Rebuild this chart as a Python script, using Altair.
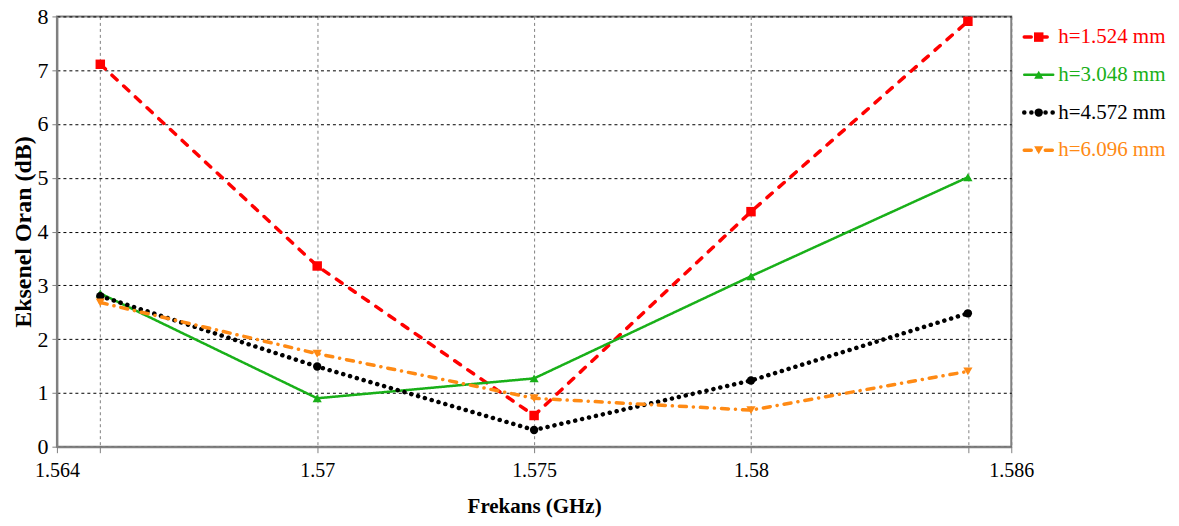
import altair as alt
import pandas as pd

# ---- data ----
freqs = [1.565, 1.57, 1.575, 1.58, 1.585]
series_names = ["h=1.524 mm", "h=3.048 mm", "h=4.572 mm", "h=6.096 mm"]
h1524 = [7.11, 3.36, 0.58, 4.37, 7.91]
h3048 = [2.85, 0.90, 1.27, 3.17, 5.01]
h4572 = [2.80, 1.49, 0.31, 1.23, 2.48]
h6096 = [2.68, 1.73, 0.90, 0.68, 1.40]
series_values = [h1524, h3048, h4572, h6096]

x_tick_values = [1.564, 1.565, 1.57, 1.575, 1.58, 1.585, 1.586]
x_tick_labels = ["1.564", "", "1.57", "1.575", "1.58", "", "1.586"]
y_tick_values = [0, 1, 2, 3, 4, 5, 6, 7, 8]

# ---- styles ----
colors = ["#FF0000", "#19B019", "#000000", "#FF8A14"]
dashes = [[7, 9], [1, 0], [0.1, 7], [7, 7, 0.1, 7]]
widths = [3.5, 2.5, 4.5, 3.5]
shapes = ["square", "triangle-up", "circle", "triangle-down"]
sizes = [90, 85, 70, 85]

FONT = "Liberation Serif"
W, H = 956, 431

label_expr = ""
for v, lab in zip(x_tick_values, x_tick_labels):
    label_expr += f"abs(datum.value - {v}) < 0.0000001 ? '{lab}' : "
label_expr += "''"

x_enc = alt.X(
    "freq:Q",
    scale=alt.Scale(domain=[x_tick_values[0], x_tick_values[-1]], nice=False, zero=False),
    axis=alt.Axis(
        values=x_tick_values, labelExpr=label_expr, title="Frekans (GHz)",
        grid=True, gridColor="#808080", gridDash=[3, 3], gridWidth=1,
        domainColor="#808080", domainWidth=2, tickColor="#808080", tickSize=6,
        labelFont=FONT, labelFontSize=20, labelColor="#000", labelPadding=8,
        labelFlush=False, labelOverlap=False,
        titleFont=FONT, titleFontSize=21, titleFontWeight="bold", titleColor="#000",
        titlePadding=15,
    ),
)
y_enc = alt.Y(
    "val:Q",
    scale=alt.Scale(domain=[0, 8], nice=False),
    axis=alt.Axis(
        values=y_tick_values, title="Eksenel Oran (dB)",
        grid=True, gridColor="#000000", gridDash=[3, 3], gridWidth=1,
        domainColor="#808080", domainWidth=2, tickColor="#808080", tickSize=5,
        labelFont=FONT, labelFontSize=22, labelColor="#000", labelPadding=4,
        labelFlush=False,
        titleFont=FONT, titleFontSize=24, titleFontWeight="bold", titleColor="#000",
        titlePadding=1,
    ),
)

layers = []
for name, vals, c, d, w, s, sz in zip(series_names, series_values, colors, dashes, widths, shapes, sizes):
    df = pd.DataFrame({"freq": freqs, "val": vals, "series": name})
    base = alt.Chart(df).encode(x=x_enc, y=y_enc)
    layers.append(base.mark_line(color=c, strokeDash=d, strokeWidth=w, strokeCap="round"))
    layers.append(base.mark_point(color=c, fill=c, filled=True, opacity=1, shape=s, size=sz))

main = alt.layer(*layers)

# ---- custom legend to the right of the plot (line + marker + coloured text) ----
leg_rows = []
for i, name in enumerate(series_names):
    leg_rows.append({"series": name, "idx": i, "lx": 13})
    leg_rows.append({"series": name, "idx": i, "lx": 42})
leg_lines = pd.DataFrame(leg_rows)
leg_pts = pd.DataFrame({"series": series_names, "idx": list(range(len(series_names))),
                        "mx": [27.5] * 4, "tx": [47] * 4})

# legend x scale: 0 = right edge of plot, 1 unit = 1 px
lx_scale = alt.Scale(domain=[-W, 0], nice=False, zero=False)
ly_scale = alt.Scale(domain=[-0.548, 10.855], nice=False, zero=False, reverse=True)

leg_layers = []
for name, c, d, w, s, sz in zip(series_names, colors, dashes, widths, shapes, sizes):
    ldf = leg_lines[leg_lines.series == name]
    pdf = leg_pts[leg_pts.series == name]
    leg_layers.append(
        alt.Chart(ldf).mark_line(color=c, strokeDash=d, strokeWidth=w, strokeCap="round").encode(
            x=alt.X("lx:Q", scale=lx_scale, axis=None),
            y=alt.Y("idx:Q", scale=ly_scale, axis=None),
        )
    )
    leg_layers.append(
        alt.Chart(pdf).mark_point(color=c, fill=c, filled=True, opacity=1, shape=s, size=sz).encode(
            x=alt.X("mx:Q", scale=lx_scale, axis=None),
            y=alt.Y("idx:Q", scale=ly_scale, axis=None),
        )
    )
    leg_layers.append(
        alt.Chart(pdf).mark_text(color=c, font=FONT, fontSize=21, align="left", baseline="middle").encode(
            x=alt.X("tx:Q", scale=lx_scale, axis=None),
            y=alt.Y("idx:Q", scale=ly_scale, axis=None),
            text="series:N",
        )
    )

legend = alt.layer(*leg_layers)

chart = alt.layer(main, legend).resolve_scale(
    x="independent", y="independent"
).properties(
    width=W, height=H,
    autosize=alt.AutoSizeParams(type="none"),
    padding={"left": 49, "top": 8, "right": 160, "bottom": 71},
).configure(background="white").configure_view(stroke="#808080", strokeWidth=2)

chart.save("out.html", embed_options={"renderer": "svg", "actions": False})
